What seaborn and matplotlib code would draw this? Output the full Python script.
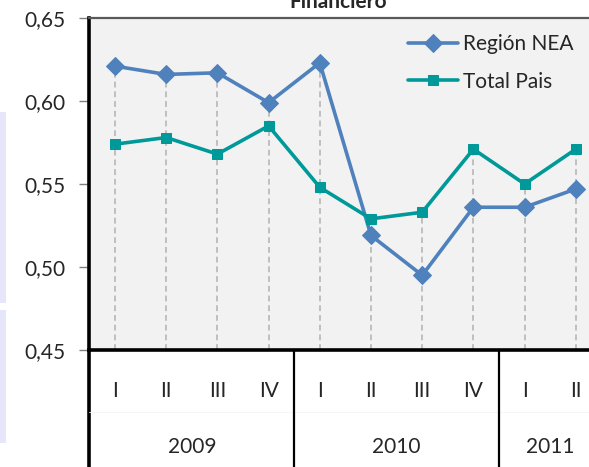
import matplotlib
matplotlib.use("Agg")
import matplotlib.pyplot as plt
import matplotlib.patches as mpatches
import seaborn as sns
import pandas as pd

# data
quarters = ["I", "II", "III", "IV", "I", "II", "III", "IV", "I", "II"]
years = ["2009", "2010", "2011"]
year_sizes = [4, 4, 2]
region_nea = [0.621, 0.616, 0.617, 0.599, 0.623, 0.519, 0.495, 0.536, 0.536, 0.547]
total_pais = [0.574, 0.578, 0.568, 0.585, 0.548, 0.529, 0.533, 0.571, 0.550, 0.571]
yticks = [0.45, 0.50, 0.55, 0.60, 0.65]

c_nea = "#4F81BD"
c_total = "#009999"

sns.set_theme(style="white")
plt.rcParams["font.family"] = ["Lato", "DejaVu Sans"]

W, H = 589, 467
fig = plt.figure(figsize=(W / 100, H / 100), dpi=100)
ax = fig.add_axes([89.4 / W, 117 / H, 512 / W, 332 / H])
ax.set_facecolor("#F2F2F2")

pos = list(range(len(quarters)))
df = pd.DataFrame({"pos": pos, "nea": region_nea, "total": total_pais})

# drop lines
for p, a, b in zip(pos, region_nea, total_pais):
    ax.vlines(p, yticks[0], max(a, b), colors="#BFBFBF", linestyles=(0, (3, 2)), lw=1.4, zorder=1)

sns.lineplot(data=df, x="pos", y="nea", ax=ax, color=c_nea, lw=2.6, marker="D",
             markersize=9, markeredgecolor=c_nea, label="Región NEA", zorder=3)
sns.lineplot(data=df, x="pos", y="total", ax=ax, color=c_total, lw=2.6, marker="s",
             markersize=7.5, markeredgecolor=c_total, label="Total Pais", zorder=3)

ax.set_xlim(-0.5, len(quarters) - 0.5)
ax.set_ylim(yticks[0], yticks[-1])
ax.set_yticks(yticks)
ax.set_yticklabels([f"{v:.2f}".replace(".", ",") for v in yticks], fontsize=15)
ax.tick_params(axis="y", length=7, width=1, color="#808080", direction="out", pad=10, left=True)

ax.set_xticks(pos)
ax.set_xticklabels(quarters, fontsize=15)
ax.tick_params(axis="x", length=0, pad=22)
ax.set_xlabel("")
ax.set_ylabel("")

for s in ["left", "bottom"]:
    ax.spines[s].set_color("black")
    ax.spines[s].set_linewidth(2.6)
ax.spines["top"].set_color("#595959")
ax.spines["top"].set_linewidth(1.6)
ax.spines["right"].set_visible(False)

# year groups under the quarters
trans = ax.get_xaxis_transform()
bottom = -117 / 332
ax.plot([-0.5, -0.5], [0, bottom], transform=trans, color="black", lw=2.6, clip_on=False)
ax.plot([-0.5, len(quarters) - 0.5], [-62 / 332, -62 / 332], transform=trans,
        color="#F4F4F4", lw=0.6, clip_on=False)
start = 0
for yr, n in zip(years, year_sizes):
    ax.text(start + (n - 1) / 2, -97 / 332, yr, transform=trans, ha="center",
            va="center", fontsize=15)
    if start + n < len(quarters):
        ax.plot([start + n - 0.5] * 2, [0, bottom], transform=trans, color="black",
                lw=1.6, clip_on=False)
    start += n

leg = ax.legend(loc="upper left", bbox_to_anchor=(408 / W, 1 - 34 / H),
                bbox_transform=fig.transFigure, frameon=False, fontsize=15,
                borderpad=0, borderaxespad=0,
                handlelength=2.4, handletextpad=0.25, labelspacing=0.85)

fig.text(338 / W, 1 - 8 / H, "Financiero", ha="center", va="baseline",
         fontsize=15, fontweight="bold")

# side boxes at the left edge
fig.patches.append(mpatches.Rectangle((0, 1 - 303 / H), 6 / W, 191 / H, transform=fig.transFigure,
                                      facecolor="#E6E6FA", edgecolor="none"))
fig.patches.append(mpatches.Rectangle((0, 1 - 443 / H), 6 / W, 133 / H, transform=fig.transFigure,
                                      facecolor="#E6E6FA", edgecolor="none"))

fig.savefig("out.png", dpi=100)
